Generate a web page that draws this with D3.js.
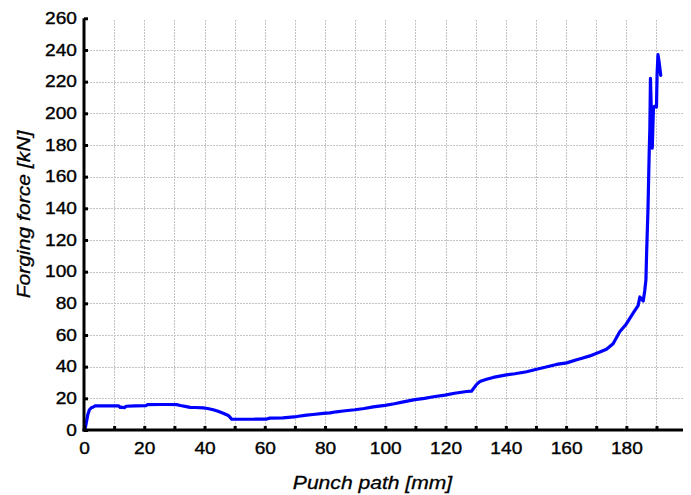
<!DOCTYPE html>
<html>
<head>
<meta charset="utf-8">
<script src="https://cdn.jsdelivr.net/npm/d3@7"></script>
<style>
  html, body { margin: 0; padding: 0; background: #fff; }
  svg { display: block; }
  text { font-family: "Liberation Sans", Arial, sans-serif; fill: #000; }
</style>
</head>
<body>
<svg id="chart" width="691" height="495"></svg>
<script>
// Punch path [mm]
const pathMm = [0.3, 0.6, 0.9, 1.3, 1.8, 2.4, 3.1, 3.6, 6, 9, 11.5, 12, 12.6, 13.4, 14, 17, 20.5, 21, 25, 28, 30.8, 32, 34, 35.2, 37, 39.6, 41, 42.9, 44.5, 46.2, 47.9, 49, 52, 56, 60.6, 61.7, 66, 70.6, 73.9, 76, 79.4, 81.6, 83.8, 86, 89.9, 93, 96, 99.9, 103, 106, 109.8, 113, 116, 119.8, 123, 127, 128.6, 130.3, 131.4, 133.6, 135.8, 138, 140.2, 143, 146.9, 150.2, 153, 156.8, 160.2, 163.5, 165, 167.9, 171.2, 173.4, 175.6, 177.8, 180, 182.3, 183.9, 184.5, 185.6, 186.1, 186.5, 186.7, 187.2, 187.6, 187.8, 188.0, 188.3, 188.6, 189.0, 189.5, 190.0, 190.2, 190.5, 190.9, 191.4];
// Forging force [kN]
const forceKn = [0, 3, 6, 10, 12.8, 14, 14.5, 15.2, 15.2, 15.3, 15.2, 14.2, 14.4, 14.1, 15.0, 15.2, 15.3, 16.0, 16.1, 16.1, 16.0, 15.5, 14.8, 14.3, 14.2, 14.0, 13.6, 12.8, 11.8, 10.6, 9.2, 6.9, 6.8, 6.8, 6.9, 7.5, 7.7, 8.5, 9.4, 9.8, 10.5, 10.8, 11.5, 12.0, 12.8, 13.6, 14.6, 15.6, 16.6, 17.8, 19.2, 20.0, 21.0, 22.0, 23.2, 24.3, 24.5, 28.8, 30.6, 32.0, 33.2, 34.0, 34.8, 35.5, 36.8, 38.4, 39.6, 41.4, 42.4, 44.4, 45.2, 46.8, 49.2, 51.0, 54.5, 62.0, 67.0, 74.0, 78.5, 84.0, 81.5, 88.0, 95.0, 110.0, 141.0, 177.0, 190.0, 222.0, 200.0, 178.0, 204.0, 204.5, 204.0, 225.0, 237.0, 232.0, 224.0];
const xTickValues = [0, 10, 20, 30, 40, 50, 60, 70, 80, 90, 100, 110, 120, 130, 140, 150, 160, 170, 180, 190];
const xLabelValues = [0, 20, 40, 60, 80, 100, 120, 140, 160, 180];
const yTickValues = [0, 20, 40, 60, 80, 100, 120, 140, 160, 180, 200, 220, 240, 260];
const xTitle = "Punch path [mm]";
const yTitle = "Forging force [kN]";

const svg = d3.select("#chart");
const mLeft = 84, mRight = 683, mTop = 18.3, mBottom = 430;
const stretch = 1.16;
const x = d3.scaleLinear().domain([0, 198.8]).range([mLeft, mRight]);
const y = d3.scaleLinear().domain([0, 260]).range([mBottom, mTop]);

// grid
const grid = svg.append("g").attr("stroke", "#c4c4c4").attr("stroke-width", 1)
  .attr("stroke-dasharray", "2,1").attr("fill", "none");
grid.selectAll("line.v").data(xTickValues.filter(d => d > 0)).enter().append("line")
  .attr("x1", d => Math.round(x(d)) + 0.5).attr("x2", d => Math.round(x(d)) + 0.5)
  .attr("y1", mBottom).attr("y2", 20);
grid.selectAll("line.h").data(yTickValues.filter(d => d > 0 && d < 260)).enter().append("line")
  .attr("y1", d => Math.round(y(d)) + 0.5).attr("y2", d => Math.round(y(d)) + 0.5)
  .attr("x1", mLeft).attr("x2", mRight);

// data line
const line = d3.line().x((d, i) => x(pathMm[i])).y(d => y(d));
svg.append("path").datum(forceKn).attr("d", line)
  .attr("fill", "none").attr("stroke", "#0000ff").attr("stroke-width", 3.2)
  .attr("stroke-linejoin", "round").attr("stroke-linecap", "round");

// axes
const xAxis = d3.axisBottom(x).tickValues(xTickValues).tickSizeInner(-4).tickSizeOuter(0)
  .tickFormat(d => xLabelValues.includes(d) ? d : "").tickPadding(10);
const gx = svg.append("g").attr("transform", `translate(0,${mBottom})`).call(xAxis);
gx.select(".domain").attr("stroke", "#000").attr("stroke-width", 3).attr("d", `M${mLeft - 1.5},0H${mRight}`);
gx.selectAll(".tick line").attr("stroke", "#000").attr("stroke-width", 3);
gx.selectAll(".tick text").attr("font-size", 16.5).attr("font-family", "'Liberation Sans', Arial, sans-serif")
  .attr("dy", "0.71em").attr("y", 12.5).attr("transform", `scale(${stretch},1)`)
  .attr("stroke", "#000").attr("stroke-width", 0.35);

const yAxis = d3.axisLeft(y).tickValues(yTickValues).tickSizeInner(-4).tickSizeOuter(0).tickPadding(10);
const gy = svg.append("g").attr("transform", `translate(${mLeft},0)`).call(yAxis);
gy.select(".domain").attr("stroke", "#000").attr("stroke-width", 3).attr("d", `M0,${mBottom + 1.5}V${mTop}`);
gy.selectAll(".tick line").attr("stroke", "#000").attr("stroke-width", 3);
gy.selectAll(".tick text").attr("font-size", 16.5).attr("font-family", "'Liberation Sans', Arial, sans-serif")
  .attr("x", -7 / stretch).attr("transform", `scale(${stretch},1)`)
  .attr("stroke", "#000").attr("stroke-width", 0.35);

// titles
svg.append("text").attr("transform", `translate(372.5,489) scale(1.14,1)`).attr("text-anchor", "middle")
  .attr("font-size", 18.5).attr("font-style", "italic").attr("stroke", "#000").attr("stroke-width", 0.3).text(xTitle);
svg.append("text").attr("transform", `translate(30,214.5) rotate(-90) scale(1.14,1)`).attr("text-anchor", "middle")
  .attr("font-size", 18.5).attr("font-style", "italic").attr("stroke", "#000").attr("stroke-width", 0.3).text(yTitle);
</script>
</body>
</html>
